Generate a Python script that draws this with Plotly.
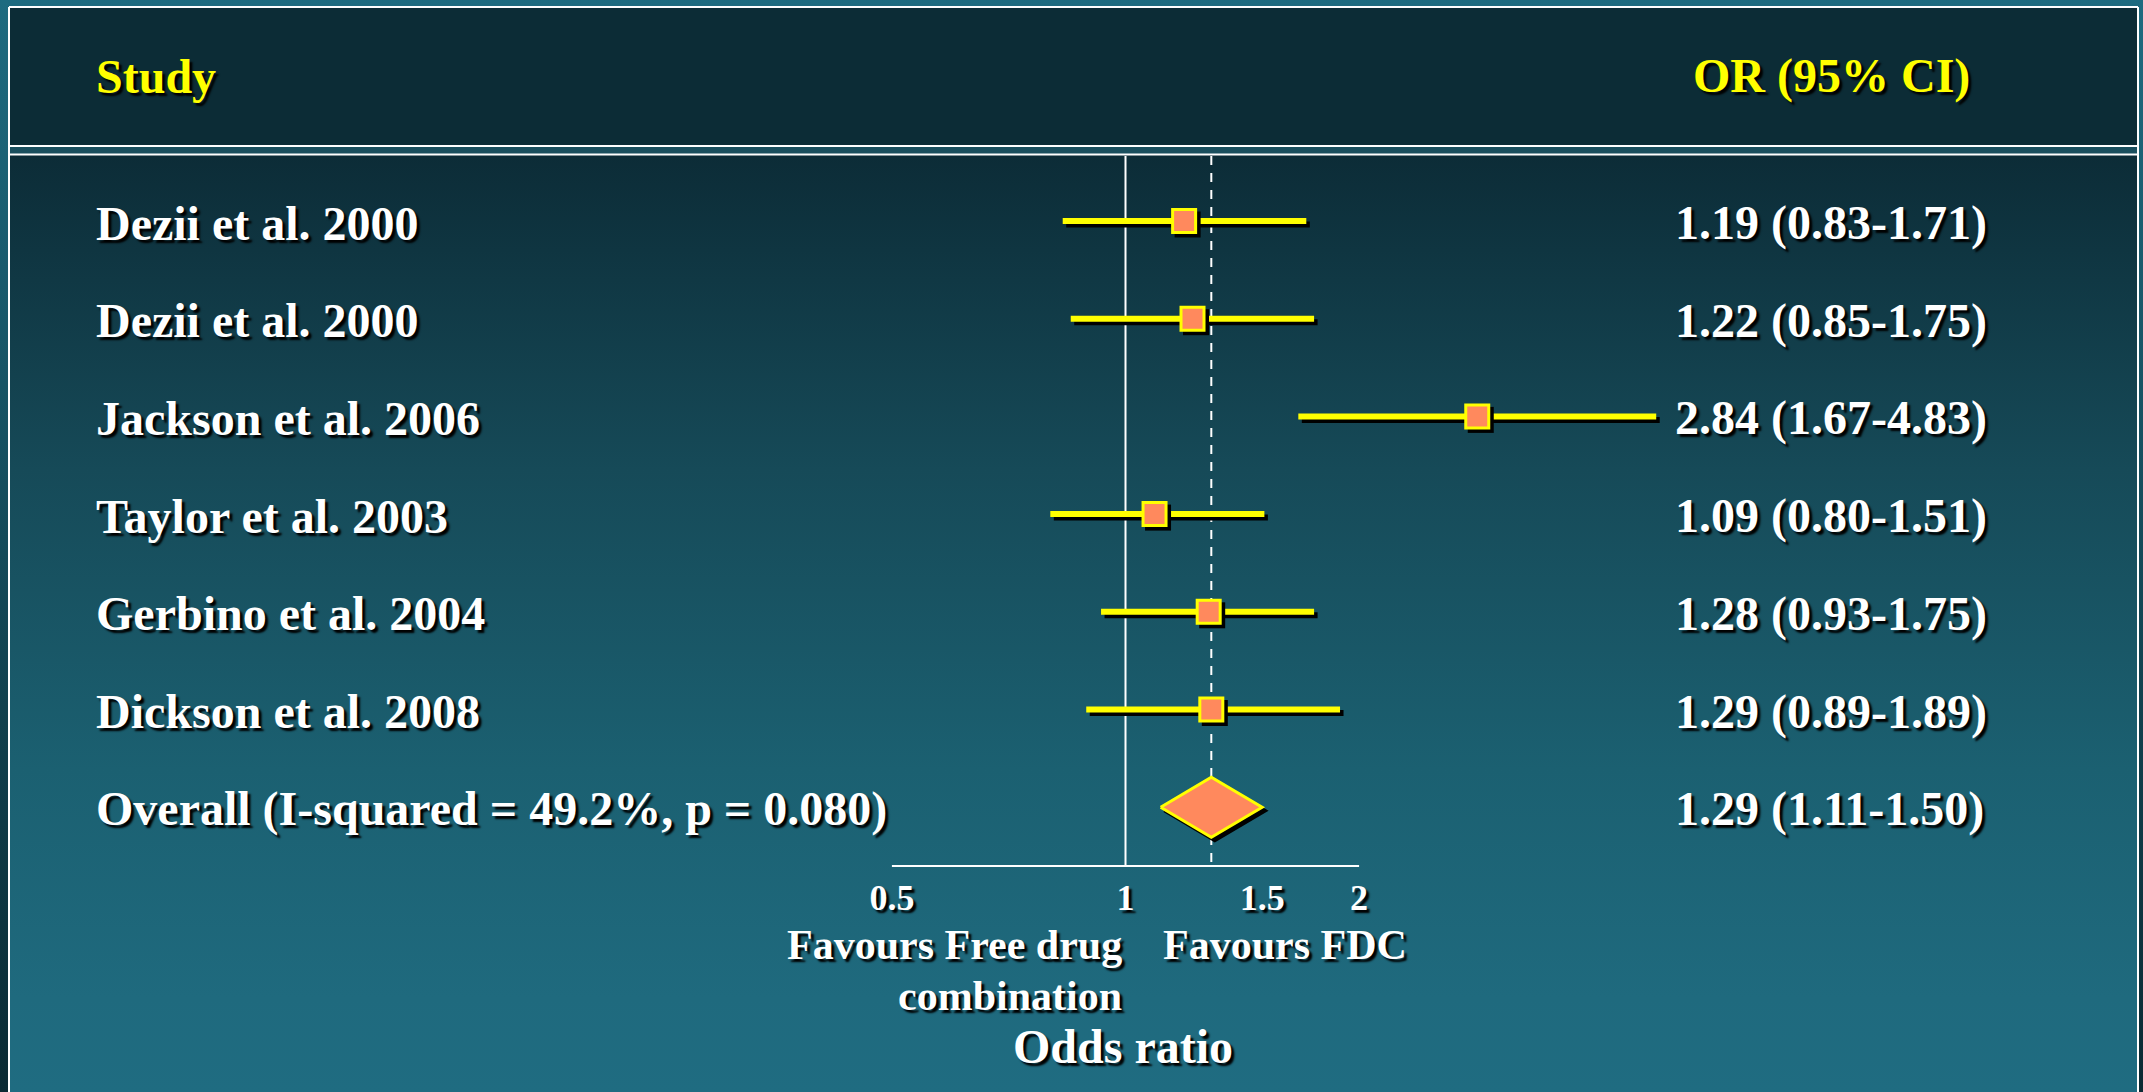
import math
import plotly.graph_objects as go

# ---------------------------------------------------------------------------
# Data: study odds ratios with 95% confidence intervals
# ---------------------------------------------------------------------------
studies = ["Dezii et al. 2000", "Dezii et al. 2000", "Jackson et al. 2006",
           "Taylor et al. 2003", "Gerbino et al. 2004", "Dickson et al. 2008"]
odds_ratio = [1.19, 1.22, 2.84, 1.09, 1.28, 1.29]
ci_low = [0.83, 0.85, 1.67, 0.80, 0.93, 0.89]
ci_high = [1.71, 1.75, 4.83, 1.51, 1.75, 1.89]

# Pooled estimate
overall_label = "Overall (I-squared = 49.2%, p = 0.080)"
overall_or = 1.29
overall_low = 1.11
overall_high = 1.50

# Odds-ratio axis
tick_values = [0.5, 1, 1.5, 2]
tick_labels = ["0.5", "1", "1.5", "2"]

col_study = "Study"
col_estimate = "OR (95% CI)"
axis_title = "Odds ratio"
left_favour = ["Favours Free drug", "combination"]
right_favour = "Favours FDC"

# ---------------------------------------------------------------------------
# Layout geometry (pixels)
# ---------------------------------------------------------------------------
W, H = 2143, 1092
X_ONE = 1125.5        # horizontal pixel of OR = 1
PX_PER_LN = 337       # pixels per unit of ln(OR)
ROW0 = 221            # pixel centre of the first study row
ROW_STEP = 97.7       # pixels between rows
AXIS_Y = 866          # pixel of the OR axis line
TOP_Y = 156           # top of the reference lines
SHADOW = 3.5          # drop-shadow offset in pixels

SERIF = "Liberation Serif"
YELLOW = "#ffff00"
SALMON = "#ff895d"
TEXT_SHADOW = "3px 3px 2px #000000"


def px_row(p):
    return (p - ROW0) / ROW_STEP


def log10_at(px):
    return (px - X_ONE) / (PX_PER_LN * math.log(10))


sx = math.exp(SHADOW / PX_PER_LN)   # multiplicative x shift on the log axis
sy = SHADOW / ROW_STEP              # row shift for the shadow

n = len(studies)
rows = list(range(n))
overall_row = n

fig = go.Figure()

# ---------------------------------------------------------------------------
# Background panels (pixel axes x/y)
# ---------------------------------------------------------------------------
fig.add_trace(go.Scatter(
    x=[0, W, W, 0, 0], y=[0, 0, H, H, 0], mode="lines", line=dict(width=0),
    fill="toself",
    fillgradient=dict(type="vertical", start=0, stop=H,
                      colorscale=[[0, "#1e6b80"], [1, "#0a2a33"]]),
    hoverinfo="skip", xaxis="x", yaxis="y"))

fig.add_trace(go.Scatter(
    x=[9, 2138, 2138, 9, 9], y=[155, 155, H, H, 155], mode="lines",
    line=dict(width=0), fill="toself",
    fillgradient=dict(type="vertical", start=155, stop=H,
                      colorscale=[[0, "#0c2c37"], [0.336, "#164a58"],
                                  [0.656, "#1b6071"], [0.9, "#1f6a7e"],
                                  [1, "#1f6c81"]]),
    hoverinfo="skip", xaxis="x", yaxis="y"))

fig.add_trace(go.Scatter(
    x=[9, 2138, 2138, 9, 9], y=[7, 7, 146, 146, 7], mode="lines",
    line=dict(width=0), fill="toself", fillcolor="#0c2c36",
    hoverinfo="skip", xaxis="x", yaxis="y"))

fig.add_trace(go.Scatter(
    x=[9, 2138, 2138, 9, 9], y=[146, 146, 155, 155, 146], mode="lines",
    line=dict(width=0), fill="toself", fillcolor="#1a4f5e",
    hoverinfo="skip", xaxis="x", yaxis="y"))

# ---------------------------------------------------------------------------
# Forest plot (data axes x2/y2)
# ---------------------------------------------------------------------------
ref_y = [px_row(TOP_Y), px_row(AXIS_Y)]

# no-effect line
fig.add_trace(go.Scatter(x=[1, 1], y=ref_y, mode="lines",
                         line=dict(color="white", width=2),
                         hoverinfo="skip", xaxis="x2", yaxis="y2"))
# pooled-estimate line
fig.add_trace(go.Scatter(x=[overall_or, overall_or], y=[ref_y[0], px_row(AXIS_Y - 3)],
                         mode="lines",
                         line=dict(color="white", width=2, dash="9px,8px"),
                         hoverinfo="skip", xaxis="x2", yaxis="y2"))
# axis baseline
fig.add_trace(go.Scatter(x=[tick_values[0], tick_values[-1]],
                         y=[px_row(AXIS_Y)] * 2, mode="lines",
                         line=dict(color="white", width=2),
                         hoverinfo="skip", xaxis="x2", yaxis="y2"))

# confidence interval segments
ci_x, ci_y, sh_x, sh_y = [], [], [], []
for r, lo, hi in zip(rows, ci_low, ci_high):
    ci_x += [lo, hi, None]
    ci_y += [r, r, None]
    sh_x += [lo * sx, hi * sx, None]
    sh_y += [r + sy, r + sy, None]

fig.add_trace(go.Scatter(x=sh_x, y=sh_y, mode="lines",
                         line=dict(color="black", width=6),
                         hoverinfo="skip", xaxis="x2", yaxis="y2"))
fig.add_trace(go.Scatter(x=ci_x, y=ci_y, mode="lines",
                         line=dict(color=YELLOW, width=6),
                         hoverinfo="skip", xaxis="x2", yaxis="y2"))

# point estimates
fig.add_trace(go.Scatter(x=[o * sx for o in odds_ratio], y=[r + sy for r in rows],
                         mode="markers",
                         marker=dict(symbol="square", size=26, color="black",
                                     line=dict(width=0)),
                         hoverinfo="skip", xaxis="x2", yaxis="y2"))
fig.add_trace(go.Scatter(x=odds_ratio, y=rows, mode="markers",
                         marker=dict(symbol="square", size=23, color=SALMON,
                                     line=dict(color=YELLOW, width=3)),
                         hoverinfo="skip", xaxis="x2", yaxis="y2"))

# pooled diamond
half_h = 30 / ROW_STEP
dx = [overall_low, overall_or, overall_high, overall_or, overall_low]
dy = [overall_row, overall_row - half_h, overall_row, overall_row + half_h, overall_row]
fig.add_trace(go.Scatter(x=[v * sx for v in dx], y=[v + sy for v in dy],
                         mode="lines", fill="toself", fillcolor="black",
                         line=dict(color="black", width=3),
                         hoverinfo="skip", xaxis="x2", yaxis="y2"))
fig.add_trace(go.Scatter(x=dx, y=dy, mode="lines", fill="toself",
                         fillcolor=SALMON, line=dict(color=YELLOW, width=3),
                         hoverinfo="skip", xaxis="x2", yaxis="y2"))

# ---------------------------------------------------------------------------
# Frame lines
# ---------------------------------------------------------------------------
frame = [(9, 7, 9, H), (2138, 7, 2138, H), (9, 7, 2138, 7),
         (9, 146, 2138, 146), (9, 154.5, 2138, 154.5)]
for x0, y0, x1, y1 in frame:
    fig.add_shape(type="line", xref="x", yref="y", x0=x0, y0=y0, x1=x1, y1=y1,
                  line=dict(color="white", width=2), layer="above")

# ---------------------------------------------------------------------------
# Text
# ---------------------------------------------------------------------------
def font(size, color="white"):
    return dict(family=SERIF, size=size, color=color, weight="bold",
                shadow=TEXT_SHADOW)


annotations = [
    dict(text=col_study, x=94, y=76, xref="x", yref="y",
         xanchor="left", yanchor="middle", font=font(48, YELLOW)),
    dict(text=col_estimate, x=1691, y=76, xref="x", yref="y",
         xanchor="left", yanchor="middle", font=font(48, YELLOW)),
]

labels = studies + [overall_label]
estimates = [f"{o:.2f} ({lo:.2f}-{hi:.2f})"
             for o, lo, hi in zip(odds_ratio, ci_low, ci_high)]
estimates.append(f"{overall_or:.2f} ({overall_low:.2f}-{overall_high:.2f})")

for r, (lab, est) in enumerate(zip(labels, estimates)):
    annotations.append(dict(text=lab, x=94, y=r, xref="x", yref="y2",
                            xanchor="left", yanchor="middle", yshift=-2,
                            font=font(48)))
    annotations.append(dict(text=est, x=1673, y=r, xref="x", yref="y2",
                            xanchor="left", yanchor="middle", yshift=-2,
                            font=font(48)))

# the favour captions sit either side of the no-effect line
annotations += [
    dict(text=left_favour[0], x=1124, y=945, xref="x", yref="y",
         xanchor="right", yanchor="middle", font=font(42)),
    dict(text=left_favour[1], x=1124, y=996, xref="x", yref="y",
         xanchor="right", yanchor="middle", font=font(42)),
    dict(text=right_favour, x=1161, y=945, xref="x", yref="y",
         xanchor="left", yanchor="middle", font=font(42)),
    dict(text=axis_title, x=1123, y=1046, xref="x", yref="y",
         xanchor="center", yanchor="middle", font=font(48)),
]

for a in annotations:
    a["showarrow"] = False

fig.update_layout(
    width=W, height=H,
    margin=dict(l=0, r=0, t=0, b=0),
    paper_bgcolor="#0a2a33",
    plot_bgcolor="rgba(0,0,0,0)",
    showlegend=False,
    hovermode=False,
    annotations=annotations,
    xaxis=dict(range=[0, W], domain=[0, 1], visible=False, fixedrange=True),
    yaxis=dict(range=[H, 0], domain=[0, 1], visible=False, fixedrange=True),
    xaxis2=dict(type="log", range=[log10_at(0), log10_at(W)], overlaying="x",
                anchor="free", position=1 - AXIS_Y / H, side="bottom",
                tickvals=tick_values, ticktext=tick_labels, ticks="",
                showline=False, showgrid=False, zeroline=False,
                ticklabelstandoff=7, tickfont=font(36), fixedrange=True),
    yaxis2=dict(range=[px_row(H), px_row(0)], overlaying="y", visible=False,
                fixedrange=True),
)

fig.write_html("out.html", config={"displayModeBar": False})
